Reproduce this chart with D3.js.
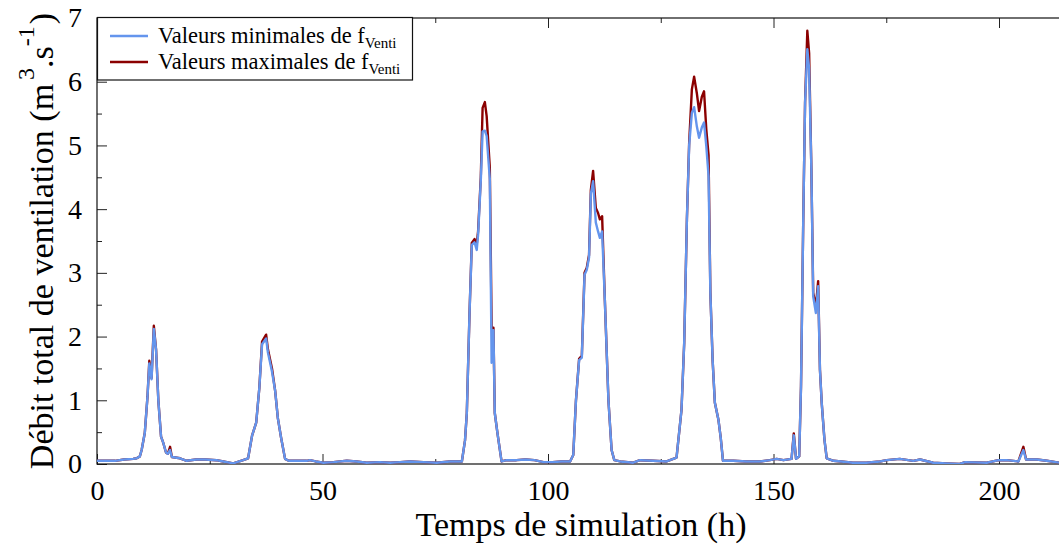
<!DOCTYPE html>
<html><head><meta charset="utf-8">
<script src="https://cdn.jsdelivr.net/npm/d3@7"></script>
<style>
html,body{margin:0;padding:0;background:#fff;}
</style></head>
<body><svg id="chart" width="1059" height="548"></svg>
<script>
// ---- data ----
const hours = [0,2,4,6,8,8.8,9.5,9.9,10.6,11.2,11.6,12.1,12.6,13.1,13.6,14.2,14.7,15.3,15.7,16.2,16.6,18.4,19.9,22,24,26.5,28,30.2,32.4,33.5,34.4,35.3,36,36.6,37.5,37.9,38.8,39.5,40.1,40.8,41.7,42.5,44,46.5,47.2,48.5,50.2,52.4,55.4,57.5,59.8,62.7,65,67.2,69.4,72.4,75.3,78.3,80.9,81.6,82.0,82.6,83.1,83.7,84.2,84.5,85.1,85.5,86.0,86.4,87.1,87.5,87.9,88.2,88.8,89.7,90.8,93,95,97,99,101,103,104.9,105.6,106.2,106.9,107.5,108.1,108.6,109.1,109.5,110.0,110.6,111.1,111.5,112.0,112.6,113.4,114.1,114.7,116,118.9,120.4,123.3,126.3,128.5,129.6,130.2,130.8,131.3,131.9,132.4,133.0,133.5,134.1,134.6,135.1,135.6,136.0,136.5,137.0,137.8,138.3,138.8,141.1,144,147,149.2,150.7,152.2,154,154.5,155.0,155.7,156.1,156.6,157.0,157.5,157.9,158.4,158.8,159.4,159.9,160.3,160.7,161.3,161.8,163.3,165,167.6,170.6,173.6,175.1,178,181,182.5,185.4,188.4,191.3,192.5,197.3,199.9,201.7,204.3,205.4,206,208.4,210.6,213.5,216];
const minValues = [0.05,0.05,0.05,0.07,0.08,0.09,0.12,0.22,0.49,1.06,1.58,1.33,2.12,1.79,1.0,0.43,0.33,0.18,0.16,0.22,0.11,0.09,0.05,0.07,0.07,0.06,0.04,0.01,0.06,0.09,0.45,0.65,1.2,1.88,1.97,1.75,1.45,1.15,0.72,0.42,0.08,0.05,0.05,0.05,0.06,0.04,0.02,0.03,0.05,0.04,0.02,0.03,0.02,0.03,0.04,0.03,0.02,0.04,0.04,0.37,0.8,2.37,3.44,3.48,3.36,3.6,4.45,5.22,5.23,5.15,4.47,1.59,2.1,0.8,0.48,0.04,0.06,0.06,0.07,0.06,0.03,0.03,0.04,0.04,0.14,1.0,1.63,1.67,2.97,3.05,3.24,4.24,4.44,3.79,3.65,3.55,3.65,2.58,1.0,0.22,0.06,0.04,0.02,0.06,0.05,0.04,0.1,0.85,1.9,3.84,5.0,5.51,5.6,5.3,5.12,5.28,5.36,4.99,4.52,2.69,1.63,0.96,0.69,0.41,0.05,0.05,0.04,0.04,0.06,0.08,0.06,0.08,0.45,0.08,0.12,1.22,3.84,5.67,6.51,6.2,4.62,2.63,2.37,2.79,1.48,0.95,0.38,0.09,0.05,0.04,0.02,0.02,0.04,0.06,0.08,0.05,0.07,0.02,0.01,0.0,0.03,0.02,0.06,0.06,0.04,0.22,0.07,0.07,0.05,0.02,0.02];
const maxValues = [0.05,0.05,0.05,0.07,0.08,0.09,0.12,0.22,0.49,1.06,1.62,1.35,2.17,1.79,1.0,0.43,0.33,0.18,0.16,0.27,0.11,0.09,0.05,0.07,0.07,0.06,0.04,0.01,0.06,0.09,0.45,0.65,1.2,1.92,2.03,1.8,1.5,1.15,0.72,0.42,0.08,0.05,0.05,0.05,0.06,0.04,0.02,0.03,0.05,0.04,0.02,0.03,0.02,0.03,0.04,0.03,0.02,0.04,0.04,0.37,0.8,2.37,3.47,3.53,3.45,3.65,4.5,5.59,5.68,5.46,4.65,2.14,2.14,0.8,0.48,0.04,0.06,0.06,0.07,0.06,0.03,0.03,0.04,0.04,0.14,1.0,1.65,1.7,3.0,3.08,3.28,4.3,4.6,4.02,3.94,3.84,3.89,2.58,1.0,0.22,0.06,0.04,0.02,0.06,0.05,0.04,0.1,0.85,1.9,3.84,5.04,5.88,6.08,5.82,5.54,5.76,5.85,5.25,4.85,2.69,1.63,0.96,0.69,0.41,0.05,0.05,0.04,0.04,0.06,0.08,0.06,0.08,0.48,0.08,0.12,1.22,3.84,5.67,6.8,6.45,4.62,2.69,2.47,2.87,1.48,0.95,0.38,0.09,0.05,0.04,0.02,0.02,0.04,0.06,0.08,0.05,0.07,0.02,0.01,0.0,0.03,0.02,0.06,0.06,0.04,0.27,0.07,0.07,0.05,0.02,0.02];
const xMajorTicks = [0,50,100,150,200];
const xMinorTicks = [25,75,125,175];
const yMajorTicks = [0,1,2,3,4,5,6,7];
const yMinorTicks = [0.5,1.5,2.5,3.5,4.5,5.5,6.5];
const legendLabels = ["Valeurs minimales de f","Valeurs maximales de f"];
const legendSub = "Venti";
const xTitle = "Temps de simulation (h)";

// ---- layout ----
const FONT = "Liberation Serif, Times New Roman, serif";
const mLeft = 97, mTop = 18, mBottom = 464;
const x = d3.scaleLinear().domain([0, 216]).range([mLeft, mLeft + 216 * 4.51]);
const y = d3.scaleLinear().domain([0, 7]).range([mBottom, mTop]);
const mRight = x(216);

const svg = d3.select("#chart").attr("font-family", FONT);
svg.append("defs").append("clipPath").attr("id","clip")
  .append("rect").attr("x",mLeft).attr("y",mTop).attr("width",mRight-mLeft).attr("height",mBottom-mTop);

const tickFont = 28;
function styleAxis(g){
  g.attr("font-family", FONT);
  g.select(".domain").remove();
  g.selectAll(".tick line").attr("stroke","#222");
  g.selectAll("text").attr("font-size",tickFont).attr("font-family",FONT).attr("fill","#000");
}

// bottom axis
svg.append("g").attr("transform",`translate(0,${mBottom})`)
  .call(d3.axisBottom(x).tickValues(xMajorTicks).tickSizeInner(-10).tickSizeOuter(0).tickPadding(16).tickFormat(d3.format("d")))
  .call(styleAxis);
svg.append("g").attr("transform",`translate(0,${mBottom})`)
  .call(d3.axisBottom(x).tickValues(xMinorTicks).tickSizeInner(-5).tickSizeOuter(0).tickFormat(""))
  .call(styleAxis);
// top axis ticks
svg.append("g").attr("transform",`translate(0,${mTop})`)
  .call(d3.axisTop(x).tickValues(xMajorTicks).tickSizeInner(-10).tickSizeOuter(0).tickFormat(""))
  .call(styleAxis);
svg.append("g").attr("transform",`translate(0,${mTop})`)
  .call(d3.axisTop(x).tickValues(xMinorTicks).tickSizeInner(-5).tickSizeOuter(0).tickFormat(""))
  .call(styleAxis);
// left axis
svg.append("g").attr("transform",`translate(${mLeft},0)`)
  .call(d3.axisLeft(y).tickValues(yMajorTicks).tickSizeInner(-10).tickSizeOuter(0).tickPadding(15).tickFormat(d3.format("d")))
  .call(styleAxis);
svg.append("g").attr("transform",`translate(${mLeft},0)`)
  .call(d3.axisLeft(y).tickValues(yMinorTicks).tickSizeInner(-5).tickSizeOuter(0).tickFormat(""))
  .call(styleAxis);

// frame
svg.append("rect").attr("x",mLeft).attr("y",mTop).attr("width",mRight-mLeft).attr("height",mBottom-mTop)
  .attr("fill","none").attr("stroke","#111").attr("stroke-width",1.2);

// lines
const maxData = hours.map((h,i)=>[h,maxValues[i]]);
const minData = hours.map((h,i)=>[h,minValues[i]]);
const line = d3.line().x(d=>x(d[0])).y(d=>y(d[1]));
const plot = svg.append("g").attr("clip-path","url(#clip)");
plot.append("path").datum(maxData).attr("d",line).attr("fill","none")
  .attr("stroke","#8b0000").attr("stroke-width",2.4).attr("stroke-linejoin","round");
plot.append("path").datum(minData).attr("d",line).attr("fill","none")
  .attr("stroke","#6495ed").attr("stroke-width",2.4).attr("stroke-linejoin","round");

// legend
const lg = svg.append("g");
lg.append("rect").attr("x",97.5).attr("y",17.5).attr("width",315).attr("height",62.5)
  .attr("fill","#fff").attr("stroke","#111").attr("stroke-width",1.2);
const legColors = ["#6495ed","#8b0000"];
legendLabels.forEach((lab,i)=>{
  const yy = 36 + i*26;
  lg.append("line").attr("x1",110).attr("x2",148).attr("y1",yy).attr("y2",yy)
    .attr("stroke",legColors[i]).attr("stroke-width",2.4);
  const t = lg.append("text").attr("x",158).attr("y",yy+7).attr("font-size",22.5).attr("font-family",FONT);
  t.append("tspan").text(lab);
  t.append("tspan").attr("font-size",15).attr("dy",5).text(legendSub);
});

// axis titles
svg.append("text").attr("x",581).attr("y",536).attr("text-anchor","middle")
  .attr("font-family",FONT).attr("font-size",34).text(xTitle);
const yt = svg.append("text").attr("transform","translate(53,241) rotate(-90)")
  .attr("text-anchor","middle").attr("font-family",FONT).attr("font-size",34);
yt.append("tspan").text("Débit total de ventilation (m");
yt.append("tspan").attr("font-size",24).attr("dy",-19).attr("dx",4).text("3");
yt.append("tspan").attr("dy",19).text(".s");
yt.append("tspan").attr("font-size",24).attr("dy",-19).text("-1");
yt.append("tspan").attr("dy",19).attr("dx",2).text(")");
</script></body></html>
